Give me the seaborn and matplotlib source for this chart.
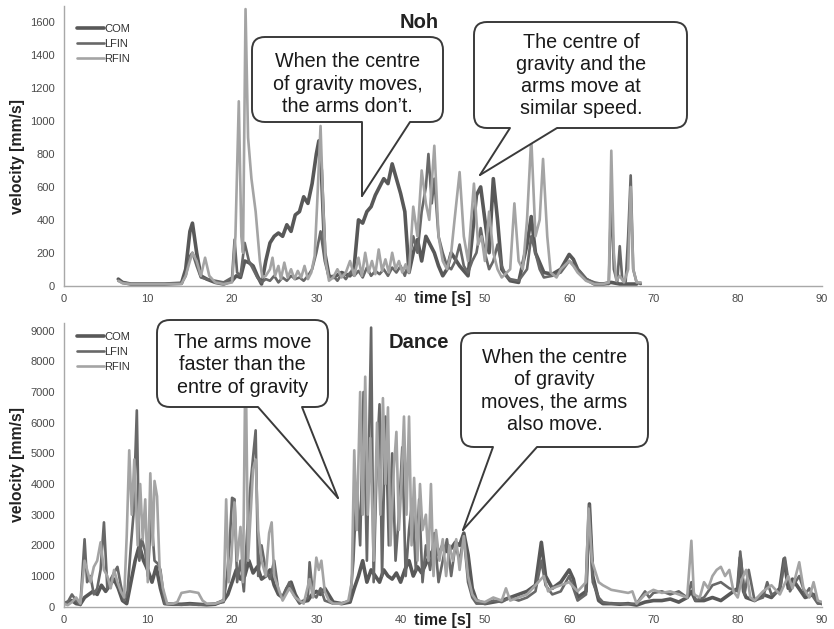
import numpy as np
import pandas as pd
import matplotlib
matplotlib.use("Agg")
import matplotlib.pyplot as plt
import seaborn as sns
from matplotlib.patches import FancyBboxPatch, Polygon
from matplotlib.lines import Line2D
from matplotlib.transforms import IdentityTransform

# ---------------- data (time [s], velocity [mm/s]) ----------------
series_names = ["COM", "LFIN", "RFIN"]

noh_com = [(6.5,40),(7,20),(8,10),(10,10),(12,10),(14,15),(14.5,100),(15,330),(15.3,380),(15.8,200),
           (16.3,60),(17,40),(18,20),(19,10),(20,30),(20.5,60),(21,50),(21.5,150),(22,140),(22.5,120),
           (23,60),(23.5,10),(24,150),(24.5,260),(25,300),(25.5,320),(26,300),(26.5,370),(27,330),
           (27.5,430),(28,450),(28.5,540),(29,500),(29.5,620),(30,800),(30.3,880),(30.6,700),(31,200),
           (31.5,60),(32,50),(33,80),(34,60),(34.5,120),(35,400),(35.5,380),(36,450),(36.5,480),(37,550),
           (37.5,600),(38,650),(38.5,620),(39,740),(39.5,650),(40,560),(40.5,450),(41,80),(41.5,200),
           (42,280),(42.5,150),(43,300),(43.5,250),(44,200),(44.5,120),(45,60),(45.5,100),(46,200),
           (47,120),(48,60),(48.5,300),(49,550),(49.5,600),(50,400),(50.5,200),(51,650),(51.5,400),
           (52,100),(53,30),(54,20),(55,250),(55.5,420),(56,200),(57,80),(58,70),(59,100),(60,190),
           (60.5,160),(61,100),(62,40),(63,10),(64,10),(65,20),(66,10),(67,10),(68,10)]

noh_lfin = [(6.5,30),(7,20),(8,10),(10,10),(12,10),(14,15),(14.5,60),(15,180),(15.3,200),(15.8,120),
            (16.3,50),(17,40),(18,30),(19,20),(20,50),(20.3,280),(20.6,80),(21,60),(21.5,260),(22,150),
            (22.5,100),(23,50),(23.5,20),(24,40),(24.5,30),(25,60),(25.5,20),(26,50),(26.5,30),(27,60),
            (27.5,40),(28,50),(28.5,30),(29,60),(29.5,100),(30,200),(30.5,330),(31,150),(31.5,50),(32,60),
            (32.5,30),(33,70),(33.5,40),(34,80),(34.5,60),(35,90),(35.5,50),(36,110),(36.5,60),(37,90),
            (37.5,70),(38,100),(38.5,60),(39,110),(39.5,80),(40,120),(40.5,60),(41,150),(41.5,300),
            (42,200),(42.5,450),(43,600),(43.3,800),(43.7,500),(44,650),(44.5,300),(45,200),(45.5,120),
            (46,100),(46.5,150),(47,250),(47.5,120),(48,80),(48.5,150),(49,200),(49.5,350),(50,200),
            (50.5,100),(51,150),(51.5,250),(52,120),(52.5,60),(53,40),(54,30),(55,100),(55.5,300),
            (56,200),(56.5,100),(57,50),(58,60),(59,80),(60,150),(61,100),(62,40),(63,20),(64,10),
            (64.7,10),(65,570),(65.3,100),(65.7,20),(66,240),(66.3,40),(66.7,20),(67,300),(67.3,670),
            (67.6,100),(68,20),(68.5,10)]

noh_rfin = [(6.5,30),(7,15),(8,10),(10,10),(12,10),(14,10),(14.5,60),(15,150),(15.3,200),(15.8,150),
            (16.3,60),(16.8,170),(17.3,60),(18,20),(19,10),(20,20),(20.4,300),(20.8,1120),(21.1,300),
            (21.3,200),(21.6,1680),(21.9,900),(22.3,650),(22.8,450),(23.3,150),(23.6,50),(24,60),
            (24.5,100),(24.8,170),(25.1,60),(25.5,120),(25.8,40),(26.2,140),(26.6,50),(27,100),(27.4,40),
            (27.8,90),(28.2,50),(28.6,120),(29,40),(29.4,80),(29.8,180),(30.1,500),(30.5,970),(30.8,500),
            (31.1,150),(31.5,30),(32,50),(32.5,100),(33,50),(33.5,80),(34,150),(34.5,60),(35,170),
            (35.4,60),(35.8,200),(36.2,80),(36.6,150),(37,70),(37.4,220),(37.8,90),(38.2,160),(38.6,80),
            (39,200),(39.4,100),(39.8,150),(40.2,80),(40.6,130),(41,80),(41.5,480),(42,300),(42.5,700),
            (43,500),(43.4,400),(44,850),(44.5,300),(45,150),(45.5,100),(46,200),(46.4,400),(47,690),
            (47.5,300),(48,150),(48.7,620),(49.2,250),(49.6,300),(50,150),(50.5,450),(51,200),(51.5,100),
            (52,50),(53,100),(53.5,500),(54,150),(54.5,100),(55,400),(55.5,900),(56,300),(56.5,400),
            (56.9,770),(57.4,300),(57.8,80),(58.5,50),(59,100),(60,150),(60.5,120),(61,80),(62,30),
            (63,10),(64,10),(64.7,20),(65,820),(65.3,200),(65.6,30),(66,60),(66.5,20),(67,100),
            (67.3,600),(67.6,100),(68,20),(68.5,20)]

dance_com = [(0,100),(1,200),(1.5,100),(2,80),(2.5,300),(3,400),(3.5,500),(4,400),(4.5,700),(5,500),
             (5.5,700),(6,900),(6.5,600),(7,200),(7.5,100),(8,800),(8.5,1500),(9,2000),(9.5,1500),
             (10,1200),(10.5,800),(11,1300),(11.5,600),(12,100),(13,80),(14,80),(15,100),(16,80),(17,60),
             (18,80),(19,200),(19.5,400),(20,800),(20.5,1200),(21,900),(21.5,1000),(22,1500),(22.5,1100),
             (23,1300),(23.5,900),(24,1000),(24.5,1200),(25,700),(25.5,400),(26,300),(26.5,600),(27,800),
             (27.5,400),(28,150),(29,200),(29.5,400),(30,500),(30.5,400),(31,600),(32,150),(33,100),
             (34,150),(34.5,600),(35,1000),(35.5,1500),(36,800),(36.5,1200),(37,1000),(37.5,800),
             (38,1200),(38.5,1000),(39,900),(39.5,1100),(40,800),(40.5,1200),(41,1500),(41.5,1000),
             (42,1300),(42.5,1100),(43,1400),(43.5,1700),(44,1900),(44.5,1700),(45,2000),(45.5,1800),
             (46,1900),(46.5,2100),(47,2000),(47.5,2400),(48,1700),(48.5,600),(49,200),(50,100),(51,150),
             (52,200),(53,300),(54,400),(55,500),(56,700),(56.7,2100),(57.2,1000),(58,600),(59,800),
             (60,1200),(60.5,900),(61,300),(62,500),(62.4,3350),(62.8,1000),(63.5,200),(64,100),(65,100),
             (66,80),(67,100),(68,50),(69,150),(70,200),(71,200),(72,250),(73,150),(74,300),(74.5,500),
             (75,200),(76,200),(77,300),(78,200),(79,400),(80,600),(80.3,1600),(80.7,500),(81,300),
             (82,200),(83,400),(84,300),(85,600),(85.5,1560),(86,600),(86.5,900),(87,700),(88,300),
             (89,400),(89.5,150),(90,100)]

dance_lfin = [(0,100),(0.5,150),(1,400),(1.5,200),(2,50),(2.5,2200),(2.8,800),(3.2,1000),(3.6,400),
              (4,600),(4.4,1200),(4.8,2750),(5.2,600),(5.6,900),(6,1100),(6.4,1300),(6.8,700),(7.2,200),
              (7.6,500),(8,2000),(8.3,3000),(8.7,6400),(9,1500),(9.3,2200),(9.7,1800),(10,1000),
              (10.4,3000),(10.8,1500),(11.2,1400),(11.5,1200),(12,100),(13,80),(14,60),(15,80),(16,60),
              (17,80),(18,100),(19,150),(19.4,1000),(19.7,2000),(20,3550),(20.3,3500),(20.6,800),
              (21,1500),(21.4,500),(21.8,2500),(22.2,4000),(22.5,4900),(22.8,5750),(23.1,1000),
              (23.5,2000),(24,1200),(24.5,900),(25,1500),(25.5,500),(26,300),(26.8,800),(27.3,400),
              (28,100),(29,300),(29.2,1450),(29.6,400),(30,300),(30.5,600),(31,200),(32,100),(33,100),
              (34,200),(34.4,1500),(34.8,4000),(35.2,2000),(35.6,7000),(36,1500),(36.5,9100),(36.8,800),
              (37.2,5000),(37.5,6600),(37.8,1000),(38.2,6200),(38.6,2000),(39,5000),(39.4,1500),
              (39.8,3000),(40.2,5200),(40.6,1000),(41,2500),(41.4,3500),(41.8,1200),(42.2,3500),
              (42.6,800),(43,2000),(43.5,1200),(44,2400),(44.5,800),(45,1500),(45.5,2200),(46,1000),
              (46.5,2000),(47,1500),(47.5,2300),(48,800),(48.5,300),(49,100),(50,100),(51,200),(52,150),
              (53,300),(54,200),(55,300),(56,500),(56.7,1500),(57.2,700),(58,400),(59,500),(60,1000),
              (60.5,600),(61,200),(62,400),(62.4,3300),(62.8,800),(63.5,300),(64,150),(65,100),(66,100),
              (67,80),(68,100),(69,500),(69.5,300),(70,450),(71,500),(72,400),(73,500),(74,300),
              (74.5,800),(75,200),(76,300),(77,700),(78,800),(79,600),(80,500),(80.3,1800),(80.8,400),
              (81.3,1200),(82,200),(83,300),(83.5,800),(84,400),(85,500),(85.6,1600),(86.2,500),
              (86.6,700),(87.3,1000),(88,400),(88.5,600),(89,300),(89.5,100),(90,100)]

dance_rfin = [(0,100),(0.5,50),(1,150),(1.5,300),(2,100),(2.5,1500),(2.8,1200),(3.2,800),(3.6,1300),
              (4,1500),(4.4,2100),(4.8,1200),(5.2,1000),(5.6,600),(6,1200),(6.4,800),(6.8,500),(7.2,300),
              (7.5,2300),(7.8,5100),(8.1,3000),(8.4,4800),(8.8,2000),(9.1,4000),(9.4,2200),(9.7,3500),
              (10,800),(10.3,4350),(10.6,2000),(10.8,4100),(11.1,3600),(11.4,1300),(11.8,600),
              (12.3,100),(13,100),(13.5,150),(14,450),(15,500),(16,450),(16.5,200),(17,100),(18,100),
              (19,200),(19.3,3500),(19.6,800),(19.9,1500),(20.3,3400),(20.6,1500),(21,2600),(21.3,800),
              (21.6,8400),(21.9,1500),(22.2,3000),(22.5,4500),(22.8,4800),(23.1,2500),(23.5,1500),
              (24,1000),(24.4,2400),(24.7,2750),(25,1000),(25.5,600),(26,200),(26.8,600),(27.5,300),
              (28.5,100),(29.2,900),(29.6,300),(30,1600),(30.3,1200),(30.6,1500),(31,500),(31.5,200),
              (32,100),(33,100),(33.8,200),(34.2,800),(34.5,5100),(34.8,2500),(35.2,7000),(35.5,3000),
              (35.8,7500),(36.1,3000),(36.4,5500),(36.8,1500),(37.2,6000),(37.6,3000),(37.9,6800),
              (38.2,4000),(38.5,6500),(38.8,2000),(39.2,4500),(39.5,5700),(39.8,2500),(40.1,4000),
              (40.4,6200),(40.7,3000),(41,6200),(41.3,2000),(41.6,4200),(42,1500),(42.3,4000),
              (42.6,2500),(43,3000),(43.3,1500),(43.6,4000),(43.9,1000),(44.2,2500),(44.6,1500),
              (45,2200),(45.4,1000),(45.8,2000),(46.2,1500),(46.6,2200),(47,1200),(47.5,2300),(48,1000),
              (48.5,400),(49,200),(50,150),(51,300),(52,200),(52.5,600),(53,200),(54,300),(55,400),
              (56,700),(57,1000),(57.5,500),(58,600),(59,700),(60,800),(61,500),(62,800),(62.3,3200),
              (62.7,1500),(63.5,800),(64,700),(65,550),(66,500),(67,450),(67.5,500),(68,100),(69,400),
              (70,550),(71,450),(72,500),(73,400),(74,300),(74.5,2150),(74.8,400),(75.5,300),(76,800),
              (76.5,600),(77,1000),(77.5,1200),(78,1300),(78.5,1000),(79,1200),(79.5,500),(80,300),
              (80.5,900),(81,1200),(81.5,300),(82,200),(83,500),(84,700),(85,400),(86,1000),(86.5,600),
              (87.3,1450),(87.8,600),(88.5,300),(89,800),(89.5,200),(90,150)]

noh_title = "Noh"
dance_title = "Dance"
x_ticks = [0, 10, 20, 30, 40, 50, 60, 70, 80, 90]
noh_yticks = [0, 200, 400, 600, 800, 1000, 1200, 1400, 1600]
dance_yticks = [0, 1000, 2000, 3000, 4000, 5000, 6000, 7000, 8000, 9000]

# ---------------- style ----------------
sns.set_style("white")
plt.rcParams['font.family'] = ['Liberation Sans', 'DejaVu Sans']

colors = {"COM": "#585858", "LFIN": "#686868", "RFIN": "#a4a4a4"}
widths = {"COM": 2.6, "LFIN": 1.9, "RFIN": 1.9}

W, H = 834, 629
fig = plt.figure(figsize=(W / 100, H / 100), dpi=100)
fig.patch.set_facecolor("white")

ax1 = fig.add_axes([63.5 / W, (H - 285.7) / H, (822 - 63.5) / W, (285.7 - 5.8) / H])
ax2 = fig.add_axes([63.5 / W, (H - 606.7) / H, (822 - 63.5) / W, (606.7 - 323) / H])


def draw_panel(ax, data, ylim, yticks, legend_y):
    for name, pts in zip(series_names, data):
        df = pd.DataFrame(pts, columns=["t", "v"])
        sns.lineplot(data=df, x="t", y="v", ax=ax, color=colors[name], linewidth=widths[name],
                     label=name, estimator=None, sort=False)
    ax.set_xlim(0, 90)
    ax.set_ylim(*ylim)
    ax.set_xticks(x_ticks)
    ax.set_yticks(yticks)
    ax.set_xlabel("")
    ax.set_ylabel("")
    for s in ["top", "right"]:
        ax.spines[s].set_visible(False)
    for s in ["left", "bottom"]:
        ax.spines[s].set_color("#a8a8a8")
        ax.spines[s].set_linewidth(1.0)
    ax.tick_params(direction="out", length=3, width=0.8, color="#a8a8a8",
                   labelsize=8, labelcolor="#4a4a4a", pad=3)
    leg = ax.legend(loc="upper left", bbox_to_anchor=(0.0178, legend_y), frameon=False,
                    fontsize=8, handlelength=2.4, handletextpad=0.05, labelspacing=0.45,
                    borderaxespad=0, borderpad=0)
    for t in leg.get_texts():
        t.set_color("#333333")


draw_panel(ax1, [noh_com, noh_lfin, noh_rfin], (0, 1700), noh_yticks, 0.935)
draw_panel(ax2, [dance_com, dance_lfin, dance_rfin], (0, 9250), dance_yticks, 0.968)

ID = IdentityTransform()


def px(x, y):
    return (x, H - y)


def ftext(x, y, s, **kw):
    X, Y = px(x, y)
    fig.text(X, Y, s, transform=ID, **kw)


# axis labels and titles
for yc in (157, 465):
    ftext(18, yc, "velocity [mm/s]", rotation=90, ha="center", va="center",
          fontsize=11.3, fontweight="bold", color="#222222")
for yc in (298, 620):
    ftext(443, yc, "time [s]", ha="center", va="center", fontsize=11.5,
          fontweight="bold", color="#222222")
ftext(419, 23, noh_title, ha="center", va="center", fontsize=14.5, fontweight="bold", color="#222222")
ftext(419, 343, dance_title, ha="center", va="center", fontsize=14.5, fontweight="bold", color="#222222")


def callout(box, text_c, tail_l, tail_r, tip, text):
    x0, y0, x1, y1 = box
    X0, Y0 = px(x0, y1)
    patch = FancyBboxPatch((X0, Y0), x1 - x0, y1 - y0,
                           boxstyle="round,pad=0,rounding_size=13", transform=ID,
                           fc="white", ec="#3a3a3a", lw=1.4, zorder=10)
    fig.add_artist(patch)
    fill = Polygon([px(tail_l, y1 - 3), px(tail_r, y1 - 3), px(tail_r, y1), px(*tip), px(tail_l, y1)],
                   closed=True, transform=ID, fc="white", ec="none", zorder=11)
    fig.add_artist(fill)
    for bx in (tail_l, tail_r):
        a, b = px(bx, y1), px(*tip)
        fig.add_artist(Line2D([a[0], b[0]], [a[1], b[1]], transform=ID, color="#3a3a3a",
                              lw=1.4, zorder=12, solid_capstyle="round"))
    X, Y = px(*text_c)
    fig.text(X, Y, text, transform=ID, ha="center", va="center", multialignment="center",
             fontsize=14.2, linespacing=1.22, color="#1a1a1a", zorder=13)


callout((252, 37, 443, 122), (347.5, 84), 362, 410, (362, 196),
        "When the centre\nof gravity moves,\nthe arms don\u2019t.")
callout((474, 22, 687, 128), (581, 75.5), 510, 557, (480, 175),
        "The centre of\ngravity and the\narms move at\nsimilar speed.")
callout((157, 320, 328, 407), (242.5, 365), 258, 302, (338, 498),
        "The arms move\nfaster than the\nentre of gravity")
callout((461, 333, 648, 447), (554.5, 391), 493, 537, (463, 530),
        "When the centre\nof gravity\nmoves, the arms\nalso move.")

fig.savefig("out.png", dpi=100)
